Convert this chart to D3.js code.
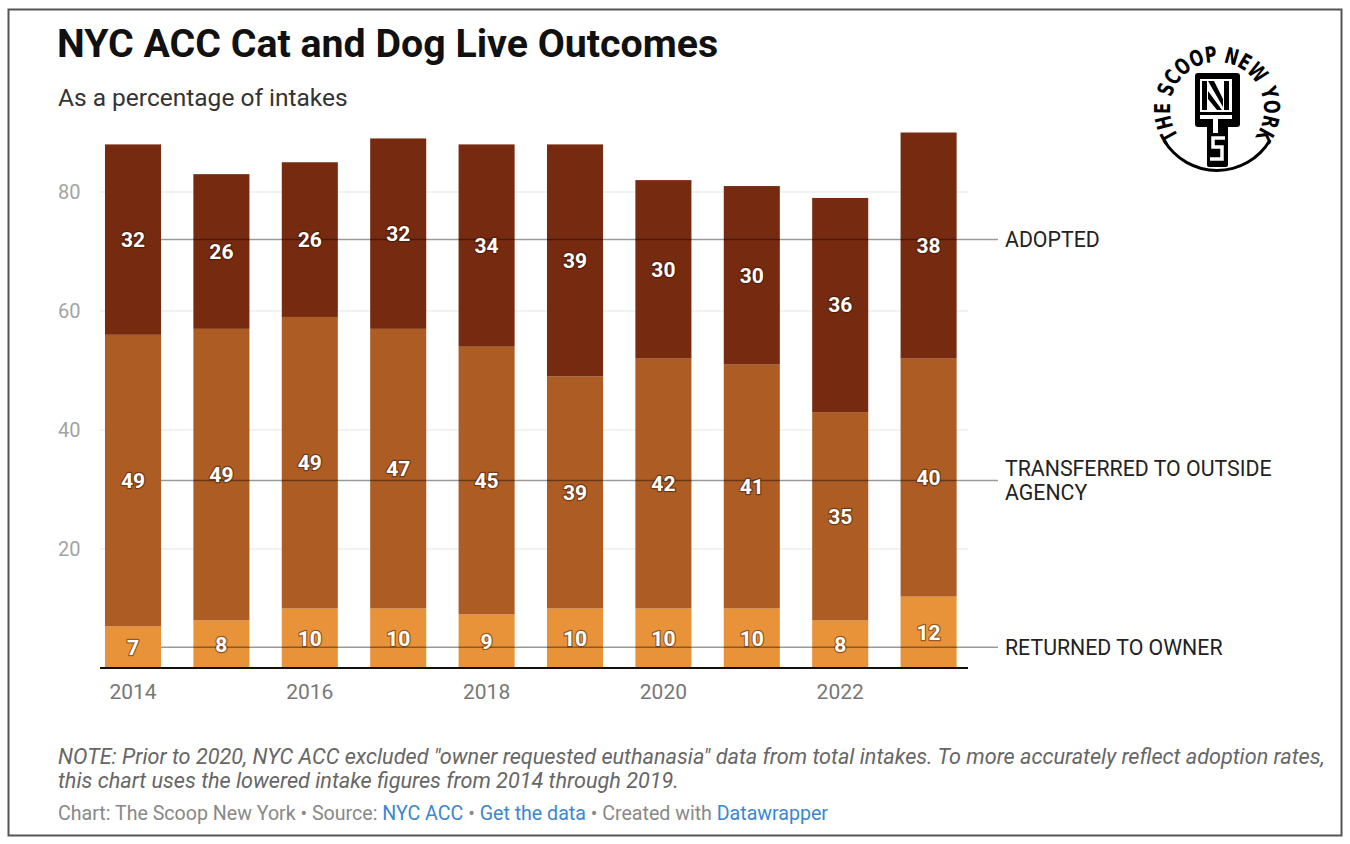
<!DOCTYPE html>
<html>
<head>
<meta charset="utf-8">
<script src="https://cdn.jsdelivr.net/npm/d3@7"></script>
<style>
  body { margin: 0; background: #fff; font-family: Roboto, sans-serif; }
  .val { font-weight: 700; font-size: 21px; fill: #fff; paint-order: stroke; stroke: rgba(40,15,0,0.45); stroke-width: 2.5px; stroke-linejoin: round; }
</style>
</head>
<body>
<div id="chart"></div>
<script>
// data
var years = [2014, 2015, 2016, 2017, 2018, 2019, 2020, 2021, 2022, 2023];
var returned = [7, 8, 10, 10, 9, 10, 10, 10, 8, 12];
var transferred = [49, 49, 49, 47, 45, 39, 42, 41, 35, 40];
var adopted = [32, 26, 26, 32, 34, 39, 30, 30, 36, 38];
var seriesKeys = ["returned", "transferred", "adopted"];
var seriesLabels = [["RETURNED TO OWNER"], ["TRANSFERRED TO OUTSIDE", "AGENCY"], ["ADOPTED"]];
var colors = ["#e8923a", "#ad5c24", "#762b10"];
var yTicks = [20, 40, 60, 80];
var xTickYears = [2014, 2016, 2018, 2020, 2022];

var svgWidth = 1350;
var svgHeight = 844;

var svg = d3.select("#chart")
  .append("svg")
  .attr("width", svgWidth)
  .attr("height", svgHeight);

// frame
svg.append("rect")
  .attr("x", 8.5).attr("y", 9.5)
  .attr("width", 1333).attr("height", 826)
  .attr("fill", "none")
  .attr("stroke", "#555")
  .attr("stroke-width", 2);

// title + subtitle
svg.append("text")
  .attr("x", 57).attr("y", 57)
  .attr("font-size", 39.3).attr("font-weight", 700)
  .attr("fill", "#111")
  .text("NYC ACC Cat and Dog Live Outcomes");

svg.append("text")
  .attr("x", 58).attr("y", 106)
  .attr("font-size", 24.5)
  .attr("fill", "#333")
  .text("As a percentage of intakes");

var table = years.map(function(y, i) {
  return { year: y, returned: returned[i], transferred: transferred[i], adopted: adopted[i] };
});

var stack = d3.stack().keys(seriesKeys);
var series = stack(table);

var x = d3.scaleBand()
  .domain(years)
  .range([88.8, 972.8])
  .paddingInner(0.366)
  .paddingOuter(0.183);

var y = d3.scaleLinear()
  .domain([0, 80])
  .range([668, 192]);

var plotLeft = 100, plotRight = 968;

// gridlines
svg.append("g").selectAll("line")
  .data(yTicks)
  .enter().append("line")
  .attr("x1", plotLeft).attr("x2", plotRight)
  .attr("y1", d => y(d)).attr("y2", d => y(d))
  .attr("stroke", "#e5e5e5")
  .attr("stroke-width", 1);

svg.append("g").selectAll("text")
  .data(yTicks)
  .enter().append("text")
  .attr("x", 58).attr("y", d => y(d))
  .attr("dy", "0.35em")
  .attr("font-size", 20)
  .attr("fill", "#a3a3a3")
  .text(d => d);

// bars
var layers = svg.append("g").selectAll("g")
  .data(series)
  .enter().append("g")
  .attr("fill", (d, i) => colors[i]);

layers.selectAll("rect")
  .data(d => d)
  .enter().append("rect")
  .attr("x", d => x(d.data.year))
  .attr("width", x.bandwidth())
  .attr("y", d => y(d[1]))
  .attr("height", d => y(d[0]) - y(d[1]));

// baseline
svg.append("line")
  .attr("x1", plotLeft).attr("x2", plotRight)
  .attr("y1", y(0)).attr("y2", y(0))
  .attr("stroke", "#111")
  .attr("stroke-width", 2);

// x axis labels
svg.append("g").selectAll("text")
  .data(xTickYears)
  .enter().append("text")
  .attr("x", d => x(d) + x.bandwidth() / 2)
  .attr("y", 699)
  .attr("text-anchor", "middle")
  .attr("font-size", 21)
  .attr("fill", "#777")
  .text(d => d);

// series annotation lines, level with the first year's labels
var firstX = x(years[0]) + x.bandwidth();
var annot = svg.append("g");
series.forEach(function(s, i) {
  var mid = (s[0][0] + s[0][1]) / 2;
  annot.append("line")
    .attr("x1", firstX).attr("x2", 998)
    .attr("y1", y(mid)).attr("y2", y(mid))
    .attr("stroke", "#000")
    .attr("stroke-opacity", 0.4)
    .attr("stroke-width", 1.5);
  var lines = seriesLabels[i];
  var t = annot.append("text")
    .attr("x", 1005)
    .attr("y", y(mid) - (lines.length - 1) * 12)
    .attr("font-size", 21.3)
    .attr("fill", "#222");
  lines.forEach(function(l, j) {
    t.append("tspan")
      .attr("x", 1005)
      .attr("dy", j === 0 ? "0.35em" : 24)
      .text(l);
  });
});

// value labels
var labels = svg.append("g");
series.forEach(function(s) {
  labels.selectAll(null)
    .data(s)
    .enter().append("text")
    .attr("class", "val")
    .attr("x", d => x(d.data.year) + x.bandwidth() / 2)
    .attr("y", d => y((d[0] + d[1]) / 2))
    .attr("dy", "0.35em")
    .attr("text-anchor", "middle")
    .text(d => d[1] - d[0]);
});

// note + footer
var note = svg.append("text")
  .attr("font-size", 21.65)
  .attr("font-style", "italic")
  .attr("fill", "#666");
note.append("tspan").attr("x", 58).attr("y", 764)
  .text("NOTE: Prior to 2020, NYC ACC excluded \"owner requested euthanasia\" data from total intakes. To more accurately reflect adoption rates,");
note.append("tspan").attr("x", 58).attr("y", 788)
  .text("this chart uses the lowered intake figures from 2014 through 2019.");

var foot = svg.append("text")
  .attr("x", 58).attr("y", 820)
  .attr("font-size", 19.6)
  .attr("fill", "#888");
var footParts = [
  ["Chart: The Scoop New York • Source: ", "#888"],
  ["NYC ACC", "#3b87d0"],
  [" • ", "#888"],
  ["Get the data", "#3b87d0"],
  [" • Created with ", "#888"],
  ["Datawrapper", "#3b87d0"]
];
footParts.forEach(function(p) {
  foot.append("tspan").attr("fill", p[1]).text(p[0]);
});

// logo
var logo = svg.append("g")
  .attr("transform", "translate(1217,109)");

var arcR = 47;
var a0 = -126 * Math.PI / 180, a1 = 126 * Math.PI / 180;
var arcPath = d3.path();
arcPath.moveTo(arcR * Math.sin(a0), -arcR * Math.cos(a0));
arcPath.arc(0, 0, arcR, a0 - Math.PI / 2, a1 - Math.PI / 2);
logo.append("path")
  .attr("id", "logoArc")
  .attr("d", arcPath.toString())
  .attr("fill", "none");

logo.append("text")
  .attr("font-family", "DejaVu Sans")
  .attr("font-weight", 700)
  .attr("font-size", 22)
  .attr("fill", "#000")
  .append("textPath")
  .attr("href", "#logoArc")
  .attr("textLength", arcR * (a1 - a0))
  .attr("lengthAdjust", "spacingAndGlyphs")
  .text("THE SCOOP NEW YORK");

logo.append("path")
  .attr("d", d3.arc()({ innerRadius: 60, outerRadius: 63, startAngle: 2.1, endAngle: 4.18 }))
  .attr("fill", "#000");

// key shape
logo.append("rect")
  .attr("x", -22).attr("y", -36).attr("width", 45).attr("height", 54)
  .attr("rx", 3).attr("fill", "#000");
logo.append("rect")
  .attr("x", -10).attr("y", 14).attr("width", 21).attr("height", 44)
  .attr("rx", 2).attr("fill", "#000");
logo.append("rect")
  .attr("x", -17).attr("y", -30).attr("width", 32).attr("height", 33)
  .attr("fill", "#fff");
logo.append("path")
  .attr("d", "M-15,-28 L-10,-28 L-10,1 L-15,1 Z M7,-28 L12,-28 L12,1 L7,1 Z M-9,-28 L-3,-28 L6,-10 L6,-2 Z M-9,-18 L-9,-10 L0,1 L5,1 Z")
  .attr("fill", "#000");
logo.append("rect")
  .attr("x", -17).attr("y", 6).attr("width", 32).attr("height", 4)
  .attr("fill", "#fff");
logo.append("rect")
  .attr("x", -4).attr("y", 10).attr("width", 5).attr("height", 14)
  .attr("fill", "#fff");
logo.append("path")
  .attr("d", "M8,29 L-4,29 L-4,38 L5,38 L5,50 L-7,50")
  .attr("fill", "none")
  .attr("stroke", "#fff")
  .attr("stroke-width", 3.5);
</script>
</body>
</html>
